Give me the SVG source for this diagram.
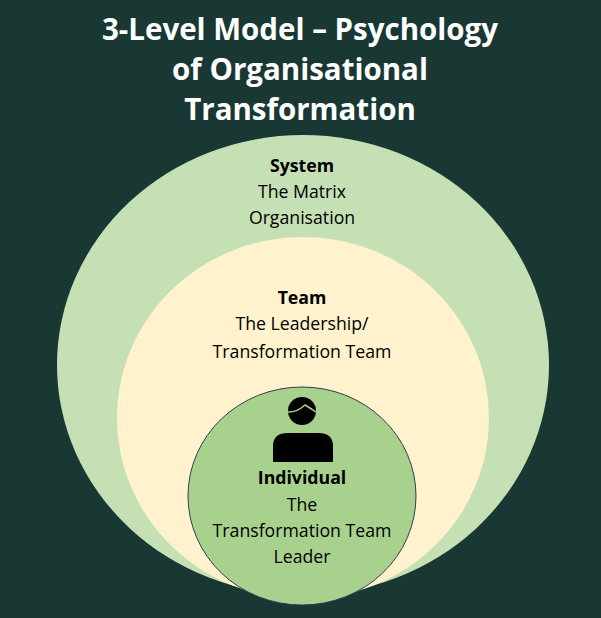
<svg xmlns="http://www.w3.org/2000/svg" width="601" height="618" viewBox="0 0 601 618">
<style>
.t{font-family:"Open Sans","Liberation Sans",sans-serif;font-size:17.7px;fill:#000;text-anchor:middle}
.b{font-weight:bold}
.h{font-family:"Open Sans","Liberation Sans",sans-serif;font-size:29.5px;font-weight:bold;fill:#fff;text-anchor:middle}
</style>
<rect width="601" height="618" fill="#193833"/>
<g id="title">
<text class="h" x="300" y="40">3-Level Model – Psychology</text>
<text class="h" x="300" y="80">of Organisational</text>
<text class="h" x="300" y="120">Transformation</text>
</g>
<g id="system">
<ellipse cx="303" cy="365" rx="246" ry="230" fill="#c5e0b4"/>
<text class="t b" x="302" y="172">System</text>
<text class="t" x="302" y="198">The Matrix</text>
<text class="t" x="302" y="224">Organisation</text>
</g>
<g id="team">
<ellipse cx="303" cy="418" rx="186" ry="181" fill="#fff2cc"/>
<text class="t b" x="302" y="304">Team</text>
<text class="t" x="302" y="330">The Leadership/</text>
<text class="t" x="302" y="358">Transformation Team</text>
</g>
<g id="individual">
<ellipse cx="302" cy="496" rx="114" ry="109" fill="#a9d18e" stroke="#2f3b5a" stroke-width="1"/>
<circle cx="302" cy="411" r="14" fill="#000"/>
<path d="M287 412 Q296 413 305 405 Q310 408 316 412" fill="none" stroke="#a9d18e" stroke-width="1.5"/>
<path d="M273 462 V446 Q273 433 288 433 H318 Q333 433 333 446 V462 Z" fill="#000"/>
<text class="t b" x="302" y="484">Individual</text>
<text class="t" x="302" y="511">The</text>
<text class="t" x="302" y="537">Transformation Team</text>
<text class="t" x="302" y="563">Leader</text>
</g>
</svg>
